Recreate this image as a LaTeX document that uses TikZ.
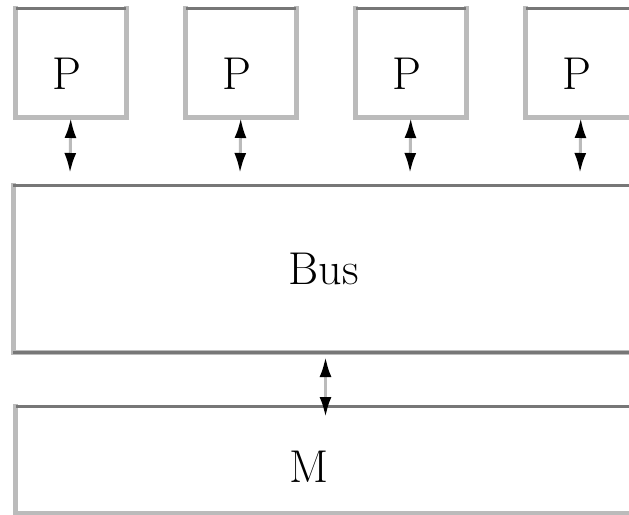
\documentclass[tikz,border=0pt]{standalone}
\usetikzlibrary{arrows.meta}
\definecolor{edgedark}{HTML}{777777}
\definecolor{edgelight}{HTML}{BBBBBB}
\tikzset{
  unit/.style={draw=none, inner sep=0pt, outer sep=0pt},
  lightedge/.style={draw=edgelight, line width=5pt, line cap=rect},
  darkedge/.style={draw=edgedark, line width=3pt},
  lbl/.style={inner sep=0pt, font=\fontsize{46}{50}\selectfont},
  link/.style={draw=edgelight, line width=3pt,
    {Latex[length=20pt,width=12pt,black]}-{Latex[length=20pt,width=12pt,black]}}
}
% edges of a box: light sides and bottom, dark top
\newcommand\frameedges[1]{%
  \draw[lightedge] (#1.north west) -- (#1.south west) -- (#1.south east) -- (#1.north east);
  \draw[darkedge] (#1.north west) -- (#1.north east);}
\begin{document}
\begin{tikzpicture}[x=1pt,y=-1pt]
  \useasboundingbox (0,0) rectangle (629,514);
  \clip (0,0) rectangle (629,514);
  \fill[white] (0,0) rectangle (629,514);

  % processors
  \foreach \k in {1,...,4}{
    \node[unit, minimum width=110.5pt, minimum height=109pt]
      (p\k) at ({70.75+170*(\k-1)},62.5) {};
    \frameedges{p\k}
    \node[lbl] (p\k t) at ([shift={(-3.5pt,-11.5pt)}]p\k.center) {P};
  }

  % bus
  \node[unit, minimum width=687pt, minimum height=167pt] (bus) at (356.5,269) {};
  \frameedges{bus}
  \draw[darkedge] (bus.south west) -- (bus.south east);
  \node[lbl] (bust) at ([xshift=-33pt]bus.center) {Bus};

  % memory
  \node[unit, minimum width=684.5pt, minimum height=107pt] (mem) at (357.75,459.5) {};
  \frameedges{mem}
  \node[lbl] (memt) at ([shift={(-49pt,-7.5pt)}]mem.center) {M};

  % connections
  \foreach \k in {1,...,4}{
    \draw[link] ([yshift=-1pt]p\k.south) -- ([xshift={(70-356.5+170*(\k-1))*1pt},yshift=12.5pt]bus.north);
  }
  \draw[link] ([xshift=-31pt,yshift=-4.5pt]bus.south) -- ([xshift=-32.25pt,yshift=-11pt]mem.north);
\end{tikzpicture}
\end{document}
